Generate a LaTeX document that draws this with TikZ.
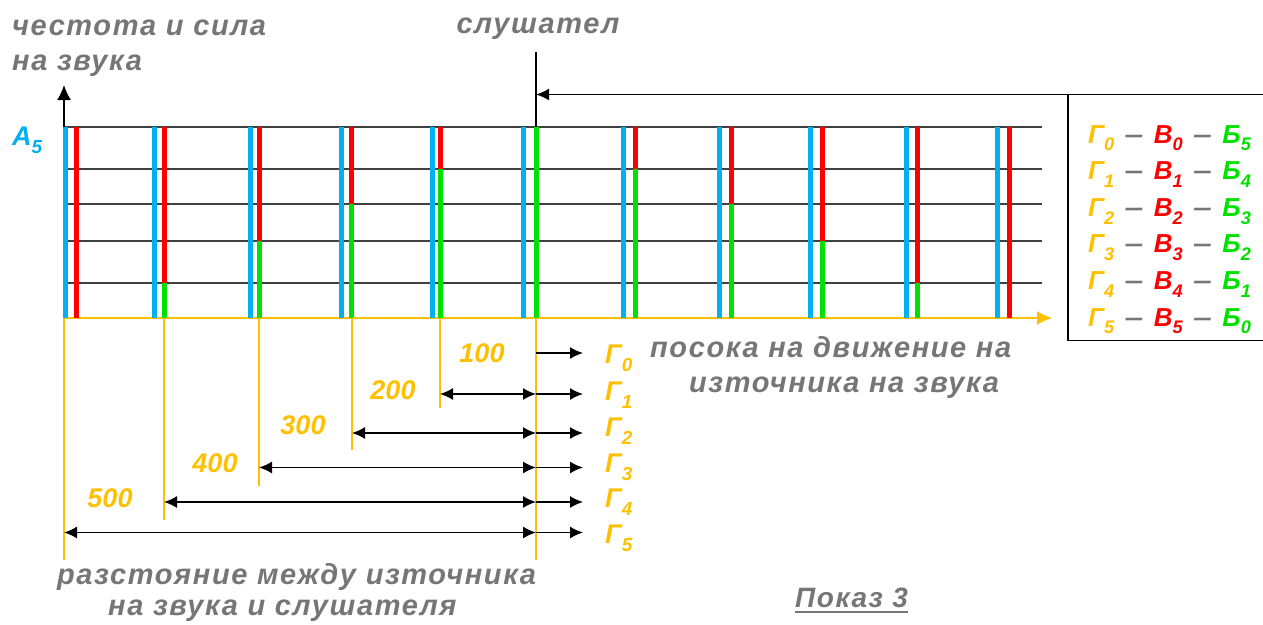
\documentclass[tikz,border=0pt]{standalone}
\usepackage{fontspec}
\setmainfont{Liberation Sans}
\newfontfamily\trackfont[LetterSpace=5.5]{Liberation Sans}
\usetikzlibrary{arrows.meta,calc}

\definecolor{sndblue}{RGB}{0,176,240}
\definecolor{sndred}{RGB}{255,0,0}
\definecolor{sndgreen}{RGB}{0,225,0}
\definecolor{sndamber}{RGB}{255,192,0}
\definecolor{sndgray}{RGB}{118,118,118}

% lowered index in the text font
\newcommand{\subidx}[1]{\raisebox{-0.3em}{\scalebox{0.7}{#1}}}
% dash between the legend items
\newcommand{\legdash}{\hspace{0.4em}\textcolor{sndgray}{\scalebox{1.3}[1]{–}}\hspace{0.4em}}

\tikzset{
  grid line/.style={draw=black!75, line width=1.4pt},
  wave/.style={line width=5pt},
  drop/.style={draw=sndamber, line width=1.3pt},
  gray text/.style={text=sndgray, inner sep=0pt, font=\trackfont\bfseries\itshape\fontsize{29}{30}\selectfont},
  num text/.style={text=sndamber, inner sep=0pt, font=\bfseries\itshape\fontsize{27}{30}\selectfont},
  leg text/.style={inner sep=0pt, font=\bfseries\itshape\fontsize{26}{30}\selectfont},
  dist arrow/.style={line width=1.5pt, {Latex[length=13pt,width=12pt]}-{Latex[length=13pt,width=12pt]}},
  dir arrow/.style={line width=1.5pt, -{Latex[length=13pt,width=12pt]}},
}

\begin{document}
\begin{tikzpicture}[x=1pt,y=-1pt]
  \useasboundingbox (0,0) rectangle (1263,624);

  % grid of the levels
  \foreach \ly in {127,169,204,241,283}
    \draw[grid line] (64,\ly) -- (1042,\ly);

  % axes
  \draw[line width=1.5pt, -{Latex[length=15pt,width=14pt]}] (64,318) -- (64,85);
  \draw[sndamber, line width=1.5pt, -{Latex[length=15pt,width=14pt]}] (64,318) -- (1052,318);

  % waves: blue, red and the heard (green) part
  \foreach \bx/\rx/\gy in {65/76/318, 154/164/283, 250/259/241, 341/351/204, 432/440/169,
                           523/536/127, 623/635/169, 719/731/204, 810/822/241, 906/917/283, 997/1009/318} {
    \draw[wave, sndblue] (\bx,127) -- (\bx,318);
    \draw[wave, sndred] (\rx,127) -- (\rx,318);
    \draw[wave, sndgreen] (\rx,318) -- (\rx,\gy);
  }

  % source positions and listener
  \coordinate (s5) at (64,318);
  \coordinate (s4) at (164,318);
  \coordinate (s3) at (259,318);
  \coordinate (s2) at (352,318);
  \coordinate (s1) at (440,318);
  \coordinate (lst) at (536,318);
  \coordinate (lsttop) at (536,52);
  \coordinate (lstarr) at (536,94.5);
  \coordinate (lgd) at (1068,94.5);

  \draw[line width=1.5pt] (lsttop) -- (536,127);
  \draw[line width=1.5pt] (1263,94.5) -- (lgd) -- (1068,340.5) -- (1263,340.5);
  \draw[dir arrow] (lgd) -- (lstarr);

  \draw[drop] (s5) -- ++(0,242);
  \draw[drop] (s4) -- ++(0,202);
  \draw[drop] (s3) -- ++(0,168);
  \draw[drop] (s2) -- ++(0,132);
  \draw[drop] (s1) -- ++(0,90);
  \draw[drop] (lst) -- ++(0,242);

  % distances
  \draw[dir arrow] (lst |- 0,353) -- (583,353);
  \foreach \s/\ry in {s1/394, s2/433, s3/467.5, s4/502, s5/532.5} {
    \draw[dist arrow] (\s |- 0,\ry) -- (lst |- 0,\ry);
    \draw[dir arrow] (lst |- 0,\ry) -- (583,\ry);
  }

  \node[num text] (n100) at (482,353) {100};
  \node[num text] (n200) at (393,390) {200};
  \node[num text] (n300) at (303,425) {300};
  \node[num text] (n400) at (215,463) {400};
  \node[num text] (n500) at (110,498) {500};

  \foreach \i/\gy in {0/363, 1/400, 2/436, 3/472, 4/507, 5/543}
    \node[num text, anchor=base west] (g\i) at (605,\gy) {Г\subidx{\i}};

  % legend
  \foreach \i [evaluate=\i as \j using int(5-\i)] in {0,...,5}
    \node[leg text, anchor=base west] (leg\i) at (1088,143+36.6*\i)
      {\textcolor{sndamber}{Г\subidx{\i}}\legdash\textcolor{sndred}{В\subidx{\i}}\legdash\textcolor{sndgreen}{Б\subidx{\j}}};

  % texts
  \node[leg text, text=sndblue, anchor=base west, font=\bfseries\itshape\fontsize{27}{30}\selectfont] (amp) at (12,145) {A\subidx{5}};
  \node[gray text, anchor=base west] (title1) at (12,35) {честота и сила};
  \node[gray text, anchor=base west] (title2) at (12,70) {на звука};
  \node[gray text, anchor=base] (lsttext) at (538,33) {слушател};
  \node[gray text, anchor=base west] (dir1) at (650,357) {посока на движение на};
  \node[gray text, anchor=base west] (dir2) at (689,392) {източника на звука};
  \node[gray text, anchor=base west] (dist1) at (57,584) {разстояние между източника};
  \node[gray text, anchor=base west] (dist2) at (108,615) {на звука и слушателя};
  \node[gray text, anchor=base west, font=\trackfont\bfseries\itshape\fontsize{28}{30}\selectfont] (fig) at (795,607) {Показ 3};
  \draw[sndgray, line width=1.8pt] ($(fig.base west)+(0,5)$) -- ($(fig.base east)+(0,5)$);
\end{tikzpicture}
\end{document}
